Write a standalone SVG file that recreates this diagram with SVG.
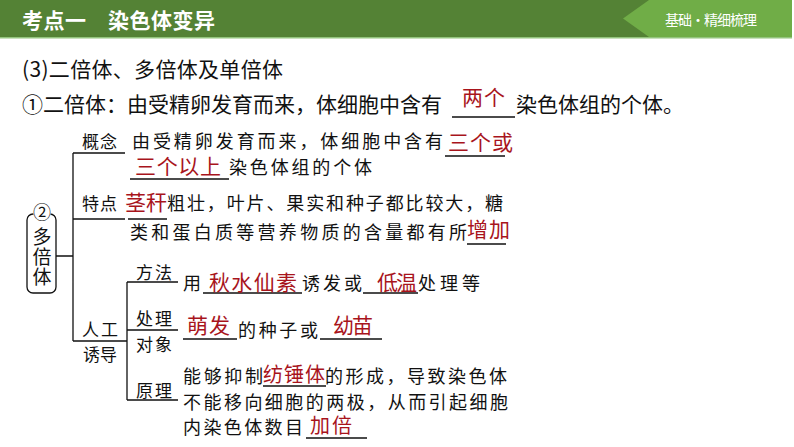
<svg xmlns="http://www.w3.org/2000/svg" width="794" height="447" viewBox="0 0 794 447">
<style>
text{font-family:"Noto Sans CJK SC","Noto Sans",sans-serif;}
.hd{fill:#fff;font-weight:bold;font-size:21px;}
.tab{fill:#fff;font-size:14px;}
.big{fill:#111;font-size:21px;}
.lb{fill:#111;font-size:17px;}
.tx{fill:#111;font-size:18px;}
.rd{fill:#a8141c;font-size:21px;}
.ln{stroke:#111;stroke-width:1.3;fill:none;}
</style>
<g id="header">
<rect x="0" y="0" width="792" height="37" fill="#548235"/>
<rect x="0" y="37" width="792" height="1.5" fill="#93c47d"/>
<polygon points="649,0 792,0 792,37 649,37 623,18.5" fill="#70ad47"/>
<text class="hd" x="22" y="28" textLength="64">考点一</text>
<text class="hd" x="108" y="28" textLength="107">染色体变异</text>
<text class="tab" x="665" y="25" textLength="92">基础·精细梳理</text>
</g>
<g id="title">
<text class="big" x="22" y="77" textLength="261">(3)二倍体、多倍体及单倍体</text>
</g>
<g id="diploid">
<text class="big" x="22" y="112" textLength="420">①二倍体：由受精卵发育而来，体细胞中含有</text>
<text class="rd" x="462" y="105" textLength="43">两个</text>
<text class="big" x="516" y="112" textLength="168">染色体组的个体。</text>
</g>
<g id="connectors">
<path class="ln" d="M56,256 H73 M73,153 V341 M73,153 H125 M73,219 H125 M73,341 H127 M127,282 V400 M127,282 H178 M127,330 H178 M127,400 H178"/>
<path class="ln" d="M452,117 H515 M445,156 H505 M130,179 H229 M128,219 H167 M467,244 H506 M203,293 H302 M363,293 H418 M183,339 H237 M320,339 H382 M263,386 H326 M306,438 H367"/>
</g>
<g id="polyploid-box">
<rect x="27" y="214" width="29" height="79" rx="6" class="ln"/>
<circle cx="42" cy="212" r="9" fill="#fff"/>
<text class="tx" x="42" y="218.5" text-anchor="middle">②</text>
<text class="tx" text-anchor="middle" style="font-size:19px"><tspan x="42" y="244">多</tspan><tspan x="42" y="264">倍</tspan><tspan x="42" y="284">体</tspan></text>
</g>
<g id="concept">
<text class="lb" x="82" y="147.5" textLength="35">概念</text>
<text class="tx" x="132" y="148" textLength="311">由受精卵发育而来，体细胞中含有</text>
<text class="rd" x="448" y="150" textLength="65">三个或</text>
<text class="rd" x="135" y="174" textLength="86">三个以上</text>
<text class="tx" x="229" y="174" textLength="143">染色体组的个体</text>
</g>
<g id="feature">
<text class="lb" x="82" y="209.5" textLength="35">特点</text>
<text class="rd" x="125" y="210" textLength="42">茎秆</text>
<text class="tx" x="167" y="210" textLength="336">粗壮，叶片、果实和种子都比较大，糖</text>
<text class="tx" x="130" y="239" textLength="337">类和蛋白质等营养物质的含量都有所</text>
<text class="rd" x="467" y="237" textLength="43">增加</text>
</g>
<g id="artificial">
<text class="lb" x="82" y="335.5" textLength="36">人工</text>
<text class="lb" x="83" y="360.5" textLength="34">诱导</text>
</g>
<g id="method">
<text class="lb" x="136" y="278.5" textLength="36">方法</text>
<text class="tx" x="183" y="290">用</text>
<text class="rd" x="209" y="290" textLength="88">秋水仙素</text>
<text class="tx" x="302" y="290" textLength="60">诱发或</text>
<text class="rd" x="377" y="290" textLength="40">低温</text>
<text class="tx" x="418" y="290" textLength="62">处理等</text>
</g>
<g id="target">
<text class="lb" x="136" y="324.5" textLength="36">处理</text>
<text class="lb" x="136" y="350.5" textLength="36">对象</text>
<text class="rd" x="187" y="333" textLength="43">萌发</text>
<text class="tx" x="238" y="337" textLength="80">的种子或</text>
<text class="rd" x="333" y="333" textLength="40">幼苗</text>
</g>
<g id="principle">
<text class="lb" x="136" y="396.5" textLength="36">原理</text>
<text class="tx" x="183" y="383" textLength="80">能够抑制</text>
<text class="rd" x="263" y="382" textLength="62" style="font-size:20px">纺锤体</text>
<text class="tx" x="325" y="383" textLength="182">的形成，导致染色体</text>
<text class="tx" x="183" y="409" textLength="325">不能移向细胞的两极，从而引起细胞</text>
<text class="tx" x="183" y="434" textLength="120">内染色体数目</text>
<text class="rd" x="310" y="433" textLength="42" style="font-size:20px">加倍</text>
</g>
</svg>
